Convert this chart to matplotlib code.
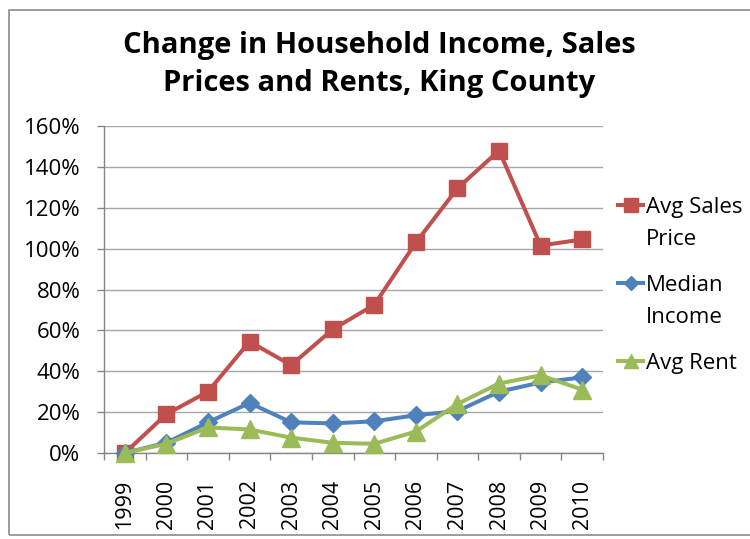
import matplotlib
matplotlib.use("Agg")
import matplotlib.pyplot as plt
from matplotlib.ticker import FuncFormatter, FixedLocator
from matplotlib.patches import Rectangle
from matplotlib.lines import Line2D

years = ["1999", "2000", "2001", "2002", "2003", "2004", "2005", "2006",
         "2007", "2008", "2009", "2010"]
avg_sales_price = [0, 19, 30, 54.5, 43, 60.5, 72.5, 103, 129.5, 148, 101.5, 104.5]
median_income = [0, 5, 15, 24.5, 15, 14.5, 15.5, 18.5, 20.5, 30, 34.5, 37]
avg_rent = [0, 4.5, 12.5, 11.5, 7.5, 5, 4.5, 10.5, 24, 34, 38, 31]
series_names = [["Avg Sales", "Price"], ["Median", "Income"], ["Avg Rent"]]

RED = "#C0504D"
BLUE = "#4F81BD"
GREEN = "#9BBB59"
FONT = ["Open Sans", "DejaVu Sans"]

plt.rcParams["font.family"] = FONT
W, H = 750, 539
fig = plt.figure(figsize=(W / 100, H / 100), dpi=100)
ax = fig.add_axes([104 / W, 1 - 453 / H, 499 / W, 327 / H])

x = list(range(len(years)))
styles = [(avg_sales_price, RED, "s", 12, 3),
          (median_income, BLUE, "D", 9.5, 4),
          (avg_rent, GREEN, "^", 12.5, 5)]
for vals, col, mk, ms, z in styles:
    ax.plot(x, vals, color=col, lw=2.9, marker=mk, ms=ms, zorder=z, clip_on=False)

ax.set_ylim(0, 160)
ax.set_xlim(-0.5, len(years) - 0.5)
ax.set_yticks(range(0, 161, 20))
ax.yaxis.set_major_formatter(FuncFormatter(lambda v, p: f"{int(v)}%"))
ax.set_xticks(x)
ax.set_xticklabels(years, rotation=90)
ax.xaxis.set_minor_locator(FixedLocator([i - 0.5 for i in range(len(years) + 1)]))
ax.tick_params(axis="x", which="major", length=0, pad=19, labelsize=15.5)
ax.tick_params(axis="x", which="minor", length=5, color="#868686", width=1)
ax.tick_params(axis="y", which="major", length=5, color="#868686", width=1,
               labelsize=16, pad=12)
ax.grid(axis="y", color="#A6A6A6", lw=1)
ax.set_axisbelow(True)
for s in ["top", "right"]:
    ax.spines[s].set_visible(False)
for s in ["left", "bottom"]:
    ax.spines[s].set_color("#868686")
    ax.spines[s].set_linewidth(1)

fig.text(379 / W, 1 - 64.5 / H, "Change in Household Income, Sales\nPrices and Rents, King County",
         ha="center", va="center", fontsize=21, fontweight="bold",
         linespacing=1.42, family=FONT)

# legend (Excel-style: marker aligned with first label line)
entry_y = [205, 283, 361]
line_gap = 32
for (vals, col, mk, ms, z), names, yy in zip(styles, series_names, entry_y):
    fy = 1 - yy / H
    fig.add_artist(Line2D([618 / W, 643 / W], [fy, fy], color=col, lw=2.9,
                          transform=fig.transFigure))
    fig.add_artist(Line2D([630.5 / W], [fy], color=col, marker=mk, ms=ms * 0.8,
                          transform=fig.transFigure))
    for k, nm in enumerate(names):
        fig.text(646 / W, 1 - (yy + k * line_gap) / H, nm, ha="left",
                 va="center_baseline", fontsize=16, family=FONT)

fig.add_artist(Rectangle((9 / W, 4 / H), 760 / W, 525 / H,
                         transform=fig.transFigure, fill=False,
                         edgecolor="#8C8C8C", lw=1.2))

fig.savefig("out.png", dpi=100)
